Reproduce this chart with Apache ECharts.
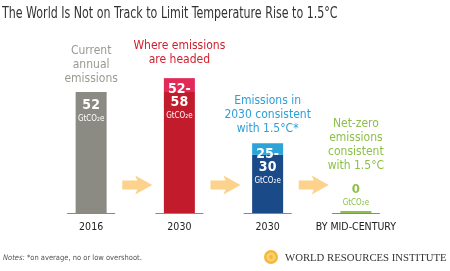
<!DOCTYPE html>
<html>
<head>
<meta charset="utf-8">
<script src="https://cdn.jsdelivr.net/npm/echarts@6/dist/echarts.min.js"></script>
<style>
  html, body { margin: 0; padding: 0; background: #fff; }
  #chart { width: 450px; height: 271px; }
</style>
</head>
<body>
<div id="chart"></div>
<script>
var categories = ['2016', '2030', '2030', 'BY MID-CENTURY'];
var lowValues = [52, 52, 25, 0];       // base of each bar (GtCO2e)
var rangeValues = [0, 6, 5, 0];        // upper end of range minus base
var valueTexts = ['52', '52-\n58', '25-\n30', '0'];
var headings = [
  'Current\nannual\nemissions',
  'Where emissions\nare headed',
  'Emissions in\n2030 consistent\nwith 1.5°C*',
  'Net-zero\nemissions\nconsistent\nwith 1.5°C'
];
var arrowSlots = [0, 1, 2];

var FONT = '"Liberation Sans Narrow", "DejaVu Sans Condensed", "Roboto", sans-serif';
var baseColors = ['#8b8b83', '#c21b2b', '#1b4a88', '#8dc04a'];
var topColors = ['#8b8b83', '#e12a58', '#2ea3d8', '#8dc04a'];
var textColors = ['#9a9a92', '#d0202f', '#2e9fd8', '#8dc04a'];

var chart = echarts.init(document.getElementById('chart'));

var baseData = lowValues.map(function (v, i) {
  return { value: v, itemStyle: { color: baseColors[i] } };
});

var rangeData = rangeValues.map(function (v, i) {
  var item = { value: v, itemStyle: { color: topColors[i] } };
  if (i < 3) {
    item.label = {
      show: true,
      position: 'insideTop',
      distance: i === 0 ? 7 : 5,
      formatter: '{v|' + valueTexts[i].split('\n').join('}\n{v|') + '}\n{u|GtCO₂e}',
      rich: {
        v: { color: '#fff', fontSize: 14, fontWeight: 'bold', lineHeight: 13, fontFamily: FONT },
        u: { color: '#fff', fontSize: 8, lineHeight: 14, fontFamily: FONT }
      }
    };
  }
  return item;
});

var headDist = [6, 11, 7, 4];
var headData = headings.map(function (h, i) {
  var extra = '';
  if (i === 3) {
    extra = '\n{s|}\n{z|' + valueTexts[3] + '}\n{u|GtCO₂e}';
  }
  return {
    value: 0,
    label: {
      show: true,
      position: 'top',
      distance: headDist[i],
      formatter: '{h|' + h.split('\n').join('}\n{h|') + '}' + extra,
      rich: {
        h: { color: textColors[i], fontSize: 12, lineHeight: 14, fontFamily: FONT, align: 'center' },
        s: { lineHeight: 10 },
        z: { color: textColors[i], fontSize: 13, fontWeight: 'bold', lineHeight: 14, fontFamily: FONT },
        u: { color: textColors[i], fontSize: 8, lineHeight: 12, fontFamily: FONT }
      }
    }
  };
});

var option = {
  animation: false,
  grid: { left: 47, right: 50, top: 27, bottom: 58 },
  xAxis: {
    type: 'category',
    data: categories,
    axisLine: { show: false },
    axisTick: { show: false },
    axisLabel: { interval: 0, color: '#222', fontSize: 10.5, fontFamily: FONT, margin: 9 }
  },
  yAxis: {
    type: 'value',
    min: 0,
    max: 80,
    show: false
  },
  series: [
    {
      name: 'low',
      type: 'bar',
      stack: 'e',
      barWidth: 31,
      barMinHeight: 2,
      data: baseData
    },
    {
      name: 'range',
      type: 'bar',
      stack: 'e',
      barWidth: 31,
      data: rangeData
    },
    {
      name: 'head',
      type: 'bar',
      stack: 'e',
      barWidth: 31,
      itemStyle: { color: 'transparent' },
      data: headData
    },
    {
      name: 'baseline',
      type: 'custom',
      silent: true,
      z: 5,
      data: categories.map(function (c, i) { return [i, 0]; }),
      renderItem: function (params, api) {
        var p = api.coord([api.value(0), api.value(1)]);
        return {
          type: 'line',
          shape: { x1: p[0] - 24, y1: p[1] + 0.5, x2: p[0] + 24, y2: p[1] + 0.5 },
          style: { stroke: '#888', lineWidth: 1 }
        };
      }
    },
    {
      name: 'arrows',
      type: 'custom',
      silent: true,
      data: arrowSlots.map(function (i) { return [i, 12]; }),
      renderItem: function (params, api) {
        var p = api.coord([api.value(0), api.value(1)]);
        var band = api.size([1, 0])[0];
        var cx = p[0] + band / 2 + 2;
        var cy = p[1];
        return {
          type: 'polygon',
          shape: {
            points: [
              [cx - 15, cy - 4.5], [cx, cy - 4.5], [cx - 2, cy - 9.5],
              [cx + 15, cy], [cx - 2, cy + 9.5], [cx, cy + 4.5], [cx - 15, cy + 4.5]
            ]
          },
          style: { fill: '#fcd28c' }
        };
      }
    }
  ],
  graphic: [
    {
      type: 'text',
      x: 2,
      y: 7,
      scaleX: 0.82,
      style: {
        text: 'The World Is Not on Track to Limit Temperature Rise to 1.5°C',
        fontFamily: FONT,
        fontSize: 15,
        fill: '#333'
      }
    },
    {
      type: 'text',
      x: 3,
      y: 254,
      style: {
        text: '{i|Notes:} *on average, no or low overshoot.',
        rich: {
          i: { fontStyle: 'italic', fontSize: 7.5, fill: '#555', fontFamily: FONT }
        },
        fontSize: 7.5,
        fill: '#555',
        fontFamily: FONT
      }
    },
    {
      type: 'group',
      x: 264,
      y: 250,
      children: [
        { type: 'circle', shape: { cx: 7, cy: 7, r: 7 }, style: { fill: '#f6b83a' } },
        { type: 'circle', shape: { cx: 7, cy: 7, r: 4.5 }, style: { fill: '#fbd36e' } },
        { type: 'circle', shape: { cx: 7, cy: 7, r: 2 }, style: { fill: '#f6b83a' } }
      ]
    },
    {
      type: 'text',
      x: 285,
      y: 253,
      scaleX: 1.13,
      style: {
        text: 'WORLD RESOURCES INSTITUTE',
        fontFamily: '"Liberation Serif", "DejaVu Serif", serif',
        fontSize: 9.5,
        fill: '#333'
      }
    }
  ]
};

chart.setOption(option);
</script>
</body>
</html>
